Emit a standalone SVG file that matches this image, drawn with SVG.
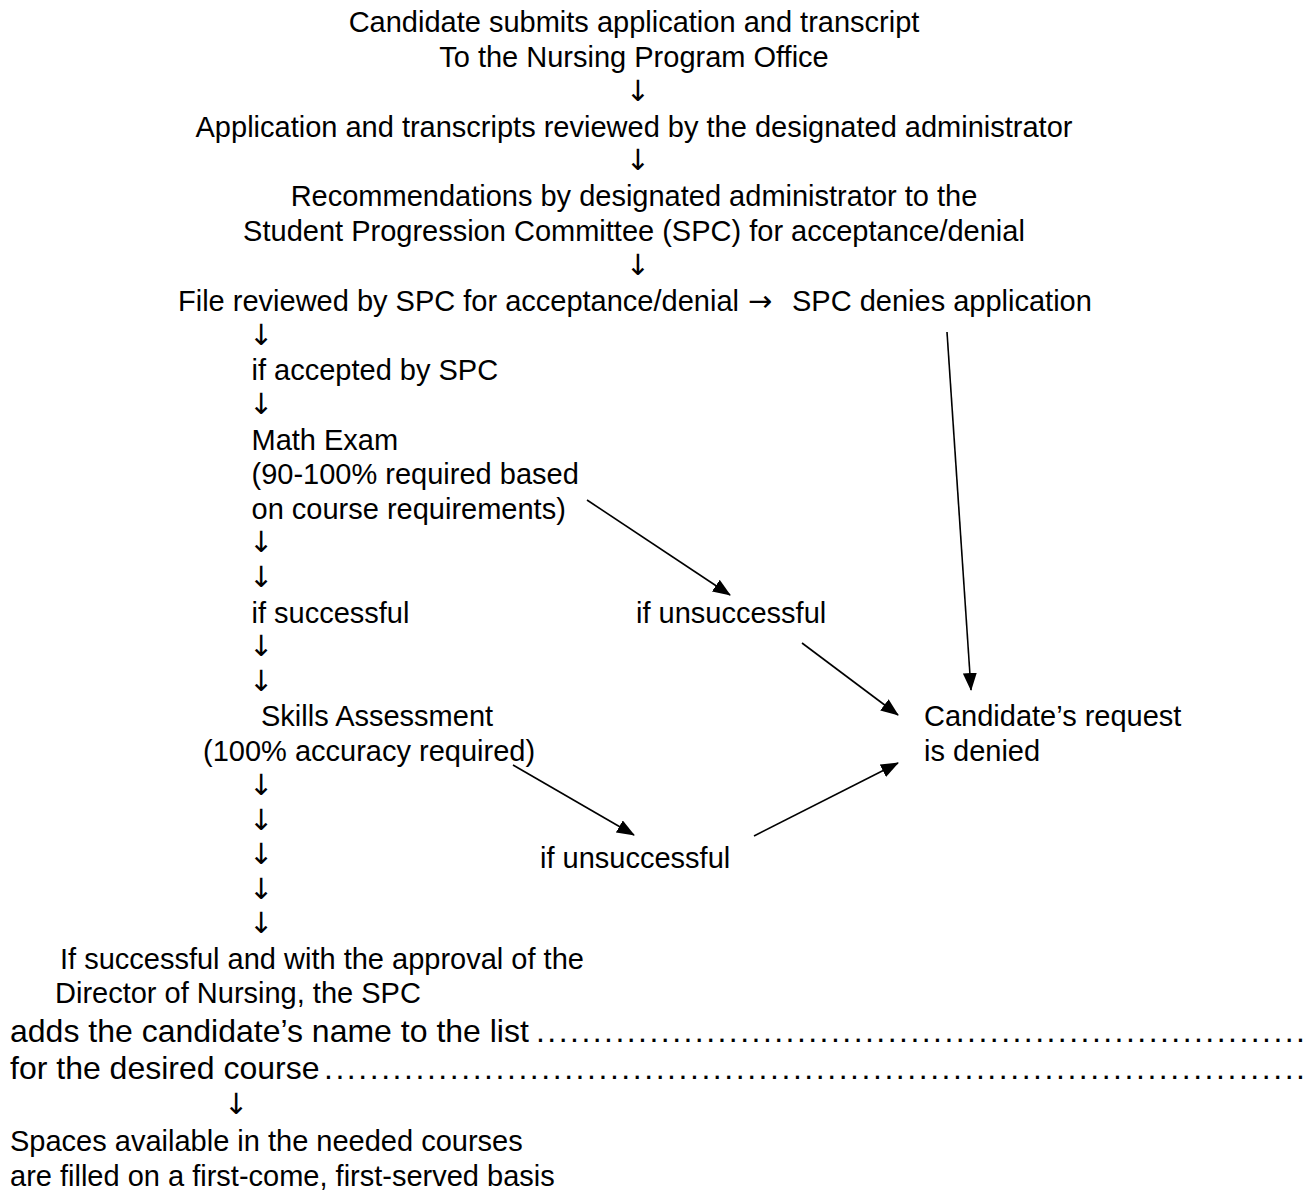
<svg xmlns="http://www.w3.org/2000/svg" width="1312" height="1193" viewBox="0 0 1312 1193">
  <style>
    text { font-family: "Liberation Sans", Arial, sans-serif; font-size: 29px; fill: #000; }
    .c { text-anchor: middle; }
    .big { font-size: 32px; }
    .arr { font-family: "DejaVu Sans", sans-serif; font-size: 29px; }
    .conn { stroke: #000; stroke-width: 1.6; fill: none; marker-end: url(#ah); }
  </style>
  <defs>
    <marker id="ah" markerUnits="userSpaceOnUse" viewBox="0 0 18 14" markerWidth="18" markerHeight="14" refX="17" refY="7" orient="auto">
      <path d="M0,0 L18,7 L0,14 Z" fill="#000"/>
    </marker>
  </defs>
  <rect width="1312" height="1193" fill="#fff"/>

  <g id="n-submit">
    <text class="c" x="634" y="32">Candidate submits application and transcript</text>
    <text class="c" x="634" y="67">To the Nursing Program Office</text>
  </g>
  <g id="n-review">
    <text class="c" x="634" y="136.5">Application and transcripts reviewed by the designated administrator</text>
  </g>
  <g id="n-recommend">
    <text class="c" x="634" y="206">Recommendations by designated administrator to the</text>
    <text class="c" x="634" y="241">Student Progression Committee (SPC) for acceptance/denial</text>
  </g>
  <g id="n-file">
    <text x="178" y="311">File reviewed by SPC for acceptance/denial</text>
    <text class="arr" x="748" y="311">→</text>
    <text x="792" y="311">SPC denies application</text>
  </g>
  <g id="n-accepted">
    <text x="251.5" y="380">if accepted by SPC</text>
  </g>
  <g id="n-math">
    <text x="251.5" y="449.5">Math Exam</text>
    <text x="251.5" y="484">(90-100% required based</text>
    <text x="251.5" y="518.5">on course requirements)</text>
  </g>
  <g id="n-success1">
    <text x="251.5" y="622.5">if successful</text>
  </g>
  <g id="n-unsuccess1">
    <text x="636" y="622.5">if unsuccessful</text>
  </g>
  <g id="n-skills">
    <text x="261" y="726">Skills Assessment</text>
    <text x="203" y="761">(100% accuracy required)</text>
  </g>
  <g id="n-denied">
    <text x="924" y="726">Candidate’s request</text>
    <text x="924" y="761">is denied</text>
  </g>
  <g id="n-unsuccess2">
    <text x="540" y="868">if unsuccessful</text>
  </g>
  <g id="n-approval">
    <text x="60" y="968.5">If successful and with the approval of the</text>
    <text x="55" y="1003">Director of Nursing, the SPC</text>
    <text class="big" x="10" y="1042">adds the candidate’s name to the list</text>
    <text class="big" x="536" y="1042" textLength="769" lengthAdjust="spacing">....................................................................</text>
    <text class="big" x="10" y="1079">for the desired course</text>
    <text class="big" x="324" y="1079" textLength="981" lengthAdjust="spacing">......................................................................................</text>
  </g>
  <g id="n-spaces">
    <text x="10" y="1151">Spaces available in the needed courses</text>
    <text x="10" y="1186">are filled on a first-come, first-served basis</text>
  </g>

  <g id="flow-arrows">
    <text class="arr c" x="638" y="101">↓</text>
    <text class="arr c" x="638" y="170">↓</text>
    <text class="arr c" x="638" y="275">↓</text>
    <text class="arr" x="249" y="345">↓</text>
    <text class="arr" x="249" y="414">↓</text>
    <text class="arr" x="249" y="552">↓</text>
    <text class="arr" x="249" y="587">↓</text>
    <text class="arr" x="249" y="656">↓</text>
    <text class="arr" x="249" y="690.5">↓</text>
    <text class="arr" x="249" y="795">↓</text>
    <text class="arr" x="249" y="829.5">↓</text>
    <text class="arr" x="249" y="864">↓</text>
    <text class="arr" x="249" y="898.5">↓</text>
    <text class="arr" x="249" y="933">↓</text>
    <text class="arr" x="224" y="1114">↓</text>
  </g>

  <g id="connectors">
    <line class="conn" x1="587" y1="500" x2="730" y2="595"/>
    <line class="conn" x1="802" y1="643" x2="898" y2="715"/>
    <line class="conn" x1="513" y1="765" x2="634" y2="835"/>
    <line class="conn" x1="754" y1="836" x2="898" y2="763"/>
    <line class="conn" x1="947" y1="332" x2="971" y2="690"/>
  </g>
</svg>
